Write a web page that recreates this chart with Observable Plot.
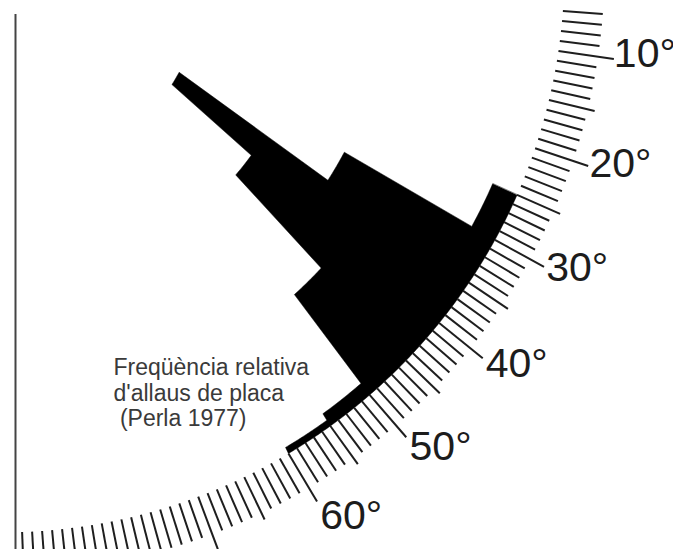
<!DOCTYPE html>
<html>
<head>
<meta charset="utf-8">
<script src="https://cdn.jsdelivr.net/npm/d3@7"></script>
<script src="https://cdn.jsdelivr.net/npm/@observablehq/plot@0.6"></script>
<style>
  html, body { margin: 0; padding: 0; background: #fff; }
</style>
</head>
<body>
<div id="chart"></div>
<script>
// ---------- DATA ----------
// Slope-angle bins (degrees, 5° wide) and relative frequency of slab avalanches (%)
const binStart = [25, 30, 35, 40, 45, 50, 55];
const binWidth = 5;
const relFreq = [2.8, 18.2, 37.4, 26.3, 13.1, 1.5, 0.7];
// Inclinometer scale: one tick per degree, labels every 10°
const tickAngles = d3.range(6, 89);
const labelAngles = [10, 20, 30, 40, 50, 60];
const labelTexts = ["10°", "20°", "30°", "40°", "50°", "60°"];
const noteLines = ["Freqüència relativa", "d'allaus de placa", "\u00a0(Perla 1977)"];

// ---------- LAYOUT ----------
const W = 673, H = 549;
const R = 564;              // radius of the scale arc, px
const CX = 0, CY = -32;     // centre of the arc, px
const rad = Math.PI / 180;
const phi = t => (1.018 * t - 1.78) * rad;   // drawn direction of slope angle t
const barOrigin = [66 / R, 22 / R];          // point the bar sides converge to (units of R)
const pxPerPct = 9.575 / R;                  // bar length per % (units of R)
const tickLen = t => (t % 10 === 0 ? 56 : t % 5 === 0 ? 47 : 40) / R;
const labelR = 650 / R;
const labelShift = t => (0.85 + 0.022 * (t - 10)) * rad;
const plumbX = 15 / R, plumbTop = (14 - CY) / R;
const noteX = 113 / R, noteY = (356 - CY) / R;

// ticks
const ticks = tickAngles.map(t => {
  const a = phi(t), c = Math.cos(a), s = Math.sin(a), l = tickLen(t);
  return {t, x1: c, y1: s, x2: (1 + l) * c, y2: (1 + l) * s};
});

// histogram: one outline — outer edge along the arc, bar ends stepped inward toward barOrigin
const n = 20;
const outerPts = [], innerPts = [];
binStart.forEach((a0, i) => {
  const L = relFreq[i] * pxPerPct;
  const seg = [];
  d3.range(n + 1).forEach(j => {
    const a = phi(a0 + binWidth * j / n);
    const x = Math.cos(a), y = Math.sin(a);
    if (j < n || i === binStart.length - 1) outerPts.push({x, y});
    const dx = x - barOrigin[0], dy = y - barOrigin[1], d = Math.hypot(dx, dy);
    seg.push({x: x - L * dx / d, y: y - L * dy / d});
  });
  innerPts.push(seg);
});
const histPts = [...outerPts, ...innerPts.reverse().flatMap(s => s.slice().reverse())];

// labels
const labels = labelAngles.map((t, i) => {
  const a = phi(t) - labelShift(t);
  return {text: labelTexts[i], x: labelR * Math.cos(a), y: labelR * Math.sin(a)};
});

const font = "'Liberation Sans', Arial, Helvetica, sans-serif";

const chart = Plot.plot({
  width: W,
  height: H,
  margin: 0,
  style: {background: "#fff", fontFamily: font},
  x: {axis: null, domain: [(0 - CX) / R, (W - CX) / R], range: [0, W]},
  y: {axis: null, domain: [(0 - CY) / R, (H - CY) / R], range: [0, H]},
  marks: [
    Plot.ruleX([plumbX], {y1: plumbTop, y2: (H - CY) / R, stroke: "#444", strokeWidth: 2}),
    Plot.link(ticks, {x1: "x1", y1: "y1", x2: "x2", y2: "y2", stroke: "#1e1e1e", strokeWidth: 2}),
    Plot.line(histPts, {x: "x", y: "y", fill: "#000", stroke: "#000", strokeWidth: 0.5, curve: "linear-closed"}),
    Plot.text(labels, {x: "x", y: "y", text: "text", fontSize: 41, fill: "#1c1c1c",
      textAnchor: "middle", lineAnchor: "middle", fontFamily: font}),
    Plot.text([noteLines.join("\n")], {x: noteX, y: noteY, text: d => d, fontSize: 23, lineHeight: 1.12,
      fill: "#3a3a3a", textAnchor: "start", lineAnchor: "top", fontFamily: font})
  ]
});
document.getElementById("chart").appendChild(chart);
</script>
</body>
</html>
